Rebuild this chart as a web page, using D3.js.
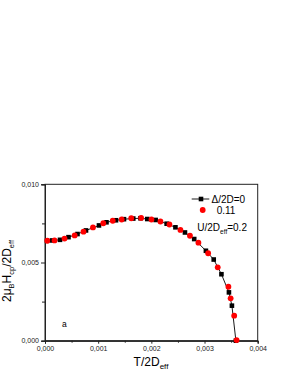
<!DOCTYPE html>
<html>
<head>
<meta charset="utf-8">
<script src="https://cdn.jsdelivr.net/npm/d3@7"></script>
<style>
  body { margin: 0; background: #fff; }
  svg { font-family: "Liberation Sans", Arial, sans-serif; }
</style>
</head>
<body>
<div id="chart"></div>
<script>
// series Δ/2D=0 (black squares, with line)
const tBlack = [0.00004, 0.000137, 0.000282, 0.000442, 0.000611, 0.000771, 0.001015, 0.001156,
  0.001335, 0.001485, 0.00166, 0.001795, 0.001923, 0.002081, 0.002288, 0.002453, 0.002632,
  0.002806, 0.003026, 0.003173, 0.003318, 0.003459, 0.003515, 0.00359];
const hBlack = [0.00639, 0.00641, 0.00645, 0.00662, 0.00682, 0.00705, 0.00737, 0.00757,
  0.00770, 0.00777, 0.00781, 0.00783, 0.00778, 0.00772, 0.00748, 0.00725, 0.00692,
  0.00650, 0.00575, 0.00519, 0.00425, 0.00309, 0.00224, 0.0];

// series Δ/2D=0.11 (red dots)
const tRed = [0.000043, 0.000179, 0.000367, 0.000558, 0.000724, 0.000902, 0.001096, 0.001274,
  0.001442, 0.001622, 0.001808, 0.002002, 0.002171, 0.00234, 0.002547, 0.002726, 0.002885,
  0.003068, 0.003248, 0.003449, 0.003491, 0.003558, 0.003603];
const hRed = [0.00639, 0.00641, 0.00653, 0.00673, 0.00697, 0.00724, 0.00751, 0.00767,
  0.00775, 0.00783, 0.00785, 0.00775, 0.00762, 0.00743, 0.00708, 0.00671, 0.00627,
  0.00559, 0.00469, 0.00345, 0.00271, 0.00160, 0.00004];

const xTicks = [0, 0.001, 0.002, 0.003, 0.004];
const xMinor = [0.0005, 0.0015, 0.0025, 0.0035];
const yTicks = [0, 0.005, 0.010];
const yMinor = [0.0025, 0.0075];

const canvWidth = 291, canvHeight = 376;
const svg = d3.select("#chart").append("svg")
    .attr("width", canvWidth)
    .attr("height", canvHeight);

const plotLeft = 45, plotRight = 257.7, plotTop = 184.3, plotBottom = 340.7;

const xScale = d3.scaleLinear().domain([0, 0.004]).range([plotLeft, plotRight]);
const yScale = d3.scaleLinear().domain([0, 0.010]).range([plotBottom, plotTop]);

const fmt = d => d3.format(".3f")(d).replace(".", ",");

// frame
svg.append("rect")
    .attr("x", plotLeft).attr("y", plotTop)
    .attr("width", plotRight - plotLeft).attr("height", plotBottom - plotTop)
    .attr("fill", "none")
    .attr("stroke", "#222")
    .attr("stroke-width", 1);

// x axis
svg.append("g")
    .attr("transform", "translate(0," + plotBottom + ")")
    .call(d3.axisBottom(xScale).tickValues(xTicks).tickSize(3).tickPadding(2).tickFormat(fmt));
svg.append("g")
    .attr("transform", "translate(0," + plotBottom + ")")
    .call(d3.axisBottom(xScale).tickValues(xMinor).tickSize(2).tickFormat(""));

// y axis
svg.append("g")
    .attr("transform", "translate(" + plotLeft + ",0)")
    .call(d3.axisLeft(yScale).tickValues(yTicks).tickSize(4).tickPadding(2).tickFormat(fmt));
svg.append("g")
    .attr("transform", "translate(" + plotLeft + ",0)")
    .call(d3.axisLeft(yScale).tickValues(yMinor).tickSize(3).tickFormat(""));

svg.selectAll(".domain").attr("stroke", "#222");
svg.selectAll(".tick line").attr("stroke", "#222");
svg.selectAll(".tick text")
    .attr("font-family", "'Liberation Sans', Arial, sans-serif")
    .attr("font-size", 7)
    .attr("fill", "#222");

// series data
const black = tBlack.map((t, i) => ({t: t, h: hBlack[i]}));
const red = tRed.map((t, i) => ({t: t, h: hRed[i]}));

const line = d3.line().x(d => xScale(d.t)).y(d => yScale(d.h));

svg.append("path")
    .datum(black)
    .attr("d", line)
    .attr("fill", "none")
    .attr("stroke", "#000")
    .attr("stroke-width", 0.9);

const sq = 4.6;
svg.selectAll(".sq")
    .data(black)
    .enter().append("rect")
    .attr("x", d => xScale(d.t) - sq / 2)
    .attr("y", d => yScale(d.h) - sq / 2)
    .attr("width", sq).attr("height", sq)
    .attr("fill", "#000");

svg.selectAll(".dot")
    .data(red)
    .enter().append("circle")
    .attr("cx", d => xScale(d.t))
    .attr("cy", d => yScale(d.h))
    .attr("r", 2.9)
    .attr("fill", "#ff0000");

// legend
svg.append("line")
    .attr("x1", 191.7).attr("x2", 209.3)
    .attr("y1", 199).attr("y2", 199)
    .attr("stroke", "#000").attr("stroke-width", 0.9);
svg.append("rect")
    .attr("x", 201 - sq / 2).attr("y", 199 - sq / 2)
    .attr("width", sq).attr("height", sq)
    .attr("fill", "#000");
svg.append("text")
    .attr("x", 211.5).attr("y", 202.5)
    .attr("font-size", 10)
    .text("Δ/2D=0");
svg.append("circle")
    .attr("cx", 202.7).attr("cy", 210).attr("r", 2.9)
    .attr("fill", "#ff0000");
svg.append("text")
    .attr("x", 216.7).attr("y", 213.5)
    .attr("font-size", 10)
    .text("0.11");

const uText = svg.append("text")
    .attr("x", 197.3).attr("y", 231)
    .attr("font-size", 10);
uText.append("tspan").text("U/2D");
uText.append("tspan").attr("font-size", 6.5).attr("dy", 2.5).text("eff");
uText.append("tspan").attr("dy", -2.5).text("=0.2");

// panel label
svg.append("text")
    .attr("x", 62).attr("y", 327)
    .attr("font-size", 8.5)
    .text("a");

// x label
const xLab = svg.append("text")
    .attr("x", 151).attr("y", 366)
    .attr("text-anchor", "middle")
    .attr("font-size", 12);
xLab.append("tspan").text("T/2D");
xLab.append("tspan").attr("font-size", 8).attr("dy", 3).text("eff");

// y label
const yLab = svg.append("text")
    .attr("transform", "translate(11,271) rotate(-90)")
    .attr("text-anchor", "middle")
    .attr("font-size", 12);
yLab.append("tspan").text("2μ");
yLab.append("tspan").attr("font-size", 7.5).attr("dy", 3).text("B");
yLab.append("tspan").attr("dy", -3).text("H");
yLab.append("tspan").attr("font-size", 7.5).attr("dy", 3).text("cp");
yLab.append("tspan").attr("dy", -3).text("/2D");
yLab.append("tspan").attr("font-size", 7.5).attr("dy", 3).text("eff");
</script>
</body>
</html>
